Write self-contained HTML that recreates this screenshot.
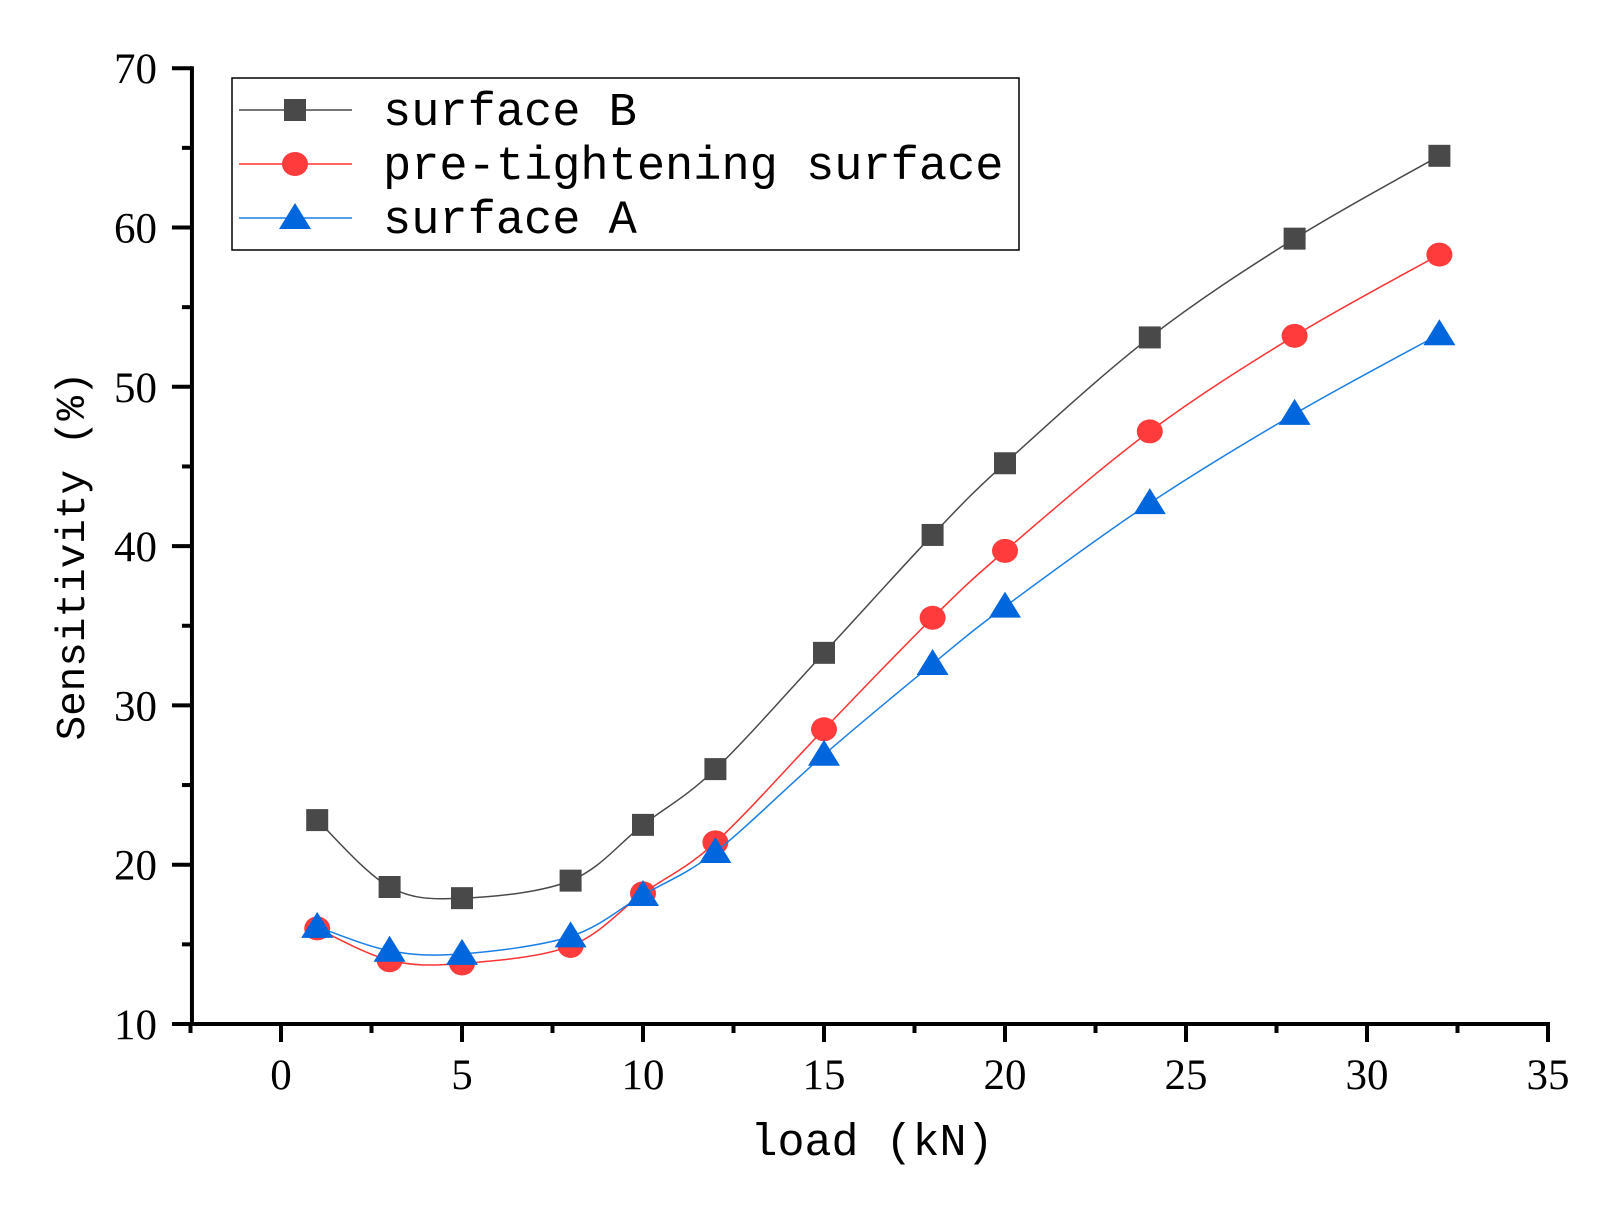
<!DOCTYPE html>
<html><head><meta charset="utf-8"><style>
html,body{margin:0;padding:0;background:#fff;}
svg{display:block;}
.tick{font-family:"Liberation Serif",serif;font-size:43px;fill:#000;}
.mono{font-family:"Liberation Mono",monospace;fill:#000;}
</style></head><body>
<svg id="chart" width="1607" height="1215" viewBox="0 0 1607 1215">
<g id="axes"></g>
<g id="series"></g>
<g id="legend">
<rect x="232" y="78" width="787" height="172" fill="#fff" stroke="#000" stroke-width="1.5"/>
</g>
<text class="mono" x="872" y="1155" font-size="45" text-anchor="middle">load (kN)</text>
<text class="mono" font-size="41" text-anchor="middle" transform="translate(84,556) rotate(-90)">Sensitivity (%)</text>
</svg>
<script>
const xValues=[1,3,5,8,10,12,15,18,20,24,28,32];
const surfaceB=[22.8,18.6,17.9,19.0,22.5,26.0,33.3,40.7,45.2,53.1,59.3,64.5];
const pretight=[16.0,14.0,13.8,14.9,18.2,21.4,28.5,35.5,39.7,47.2,53.2,58.3];
const surfaceA=[16.1,14.6,14.4,15.5,18.1,20.8,26.9,32.6,36.2,42.7,48.3,53.3];
const xTicks=[0,5,10,15,20,25,30,35];
const yTicks=[10,20,30,40,50,60,70];
const seriesNames=["surface B","pre-tightening surface","surface A"];

const NS="http://www.w3.org/2000/svg";
const X0=281,XS=36.2,Y10=1024,YS=15.93;
const sx=v=>X0+v*XS, sy=v=>Y10-(v-10)*YS;
function mk(tag,attrs,parent){const e=document.createElementNS(NS,tag);for(const k in attrs)e.setAttribute(k,attrs[k]);parent.appendChild(e);return e;}
const axes=document.getElementById('axes');
const left=sx(-2.46), right=sx(35);
let e=mk('line',{x1:left,y1:sy(10),x2:right,y2:sy(10),stroke:'#000','stroke-width':4,'stroke-linecap':'square'},axes);


e=mk('line',{x1:left,y1:sy(10),x2:left,y2:sy(70),stroke:'#000','stroke-width':4,'stroke-linecap':'square'},axes);


for(let v=-2.5;v<=35.01;v+=2.5){
  const major=Math.abs(v%5)<1e-6;
  e=mk('line',{x1:sx(v),y1:sy(10),x2:sx(v),y2:sy(10)+(major?18:9),stroke:'#000','stroke-width':4},axes);
  
  
}
xTicks.forEach(t=>{e=mk('text',{x:sx(t),y:1089,'text-anchor':'middle',class:'tick'},axes);e.textContent=t;
  
  });
for(let v=10;v<=70;v+=5){
  const major=v%10===0;
  e=mk('line',{x1:left,y1:sy(v),x2:left-(major?20:10),y2:sy(v),stroke:'#000','stroke-width':4},axes);
  
  
}
yTicks.forEach(t=>{e=mk('text',{x:157,y:sy(t)+15,'text-anchor':'end',class:'tick'},axes);e.textContent=t;
  
  });

function path(vals){
  const p=xValues.map((x,i)=>[sx(x),sy(vals[i])]);
  let d=`M${p[0][0]},${p[0][1]}`;
  for(let i=0;i<p.length-1;i++){
    const p0=p[i-1]||p[i],p1=p[i],p2=p[i+1],p3=p[i+2]||p[i+1];
    const c1=[p1[0]+(p2[0]-p0[0])/6,p1[1]+(p2[1]-p0[1])/6];
    const c2=[p2[0]-(p3[0]-p1[0])/6,p2[1]-(p3[1]-p1[1])/6];
    d+=` C${c1[0]},${c1[1]} ${c2[0]},${c2[1]} ${p2[0]},${p2[1]}`;
  }
  return d;
}
function marker(kind,cx,cy,color,parent){
  if(kind==='sq') return mk('rect',{x:cx-11,y:cy-11,width:22,height:22,fill:color},parent);
  if(kind==='ci') return mk('ellipse',{cx:cx,cy:cy,rx:13,ry:12,fill:color},parent);
  return mk('polygon',{points:`${cx},${cy-15} ${cx-16},${cy+11} ${cx+16},${cy+11}`,fill:color},parent);
}
const ser=document.getElementById('series');
const defs=[[surfaceB,'#494949','#494949','sq','surface-b'],[pretight,'#ff3333','#ff3b3b','ci','pre-tightening-surface'],[surfaceA,'#1a7fe6','#0066dd','tr','surface-a']];
defs.forEach(([vals,lc,mc,kind,name])=>{
  const g=mk('g',{},ser);
  
  
  e=mk('path',{d:path(vals),fill:'none',stroke:lc,'stroke-width':1.5},g);
  
  
  vals.forEach((v,i)=>{e=marker(kind,sx(xValues[i]),sy(v),mc,g);
    
    });
});
const leg=document.getElementById('legend');
defs.forEach(([vals,lc,mc,kind,name],i)=>{
  const y=110+i*54;
  e=mk('line',{x1:239,y1:y,x2:352,y2:y,stroke:lc,'stroke-width':1.5},leg);
  
  
  e=marker(kind,295,y,mc,leg);
  
  
  e=mk('text',{x:383,y:y+15,class:'mono','font-size':47},leg);
  e.textContent=seriesNames[i];
  
  
});
</script>
</body></html>
